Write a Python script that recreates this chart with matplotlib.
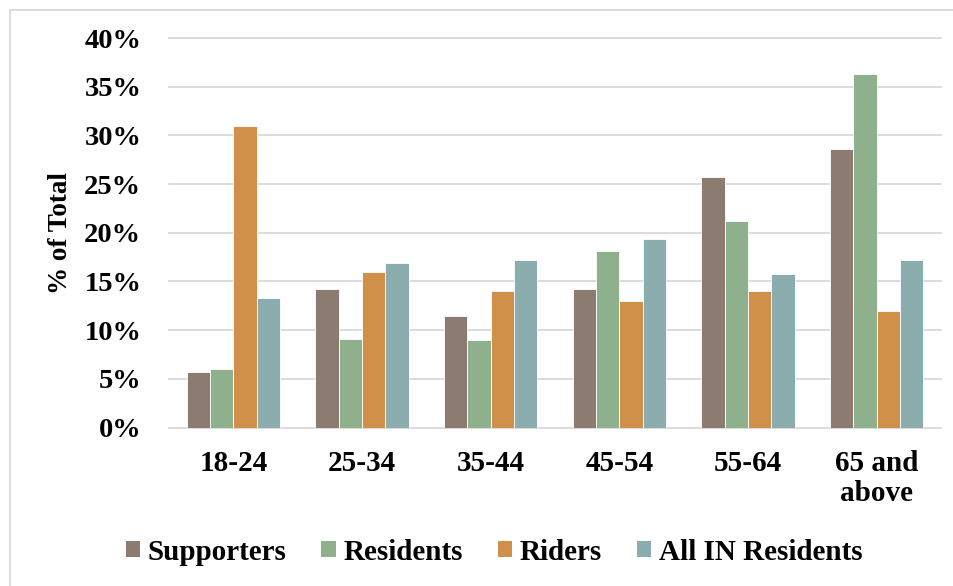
import numpy as np
import matplotlib
matplotlib.use("Agg")
import matplotlib.pyplot as plt
from matplotlib.patches import Patch
from matplotlib.lines import Line2D
from matplotlib.ticker import PercentFormatter

# Age groups and share of each population (%)
age_groups = ["18-24", "25-34", "35-44", "45-54", "55-64", "65 and\nabove"]
supporters = [5.7, 14.2, 11.4, 14.2, 25.7, 28.6]
residents = [6.0, 9.1, 9.0, 18.1, 21.2, 36.3]
riders = [31.0, 16.0, 14.0, 13.0, 14.0, 12.0]
all_in_residents = [13.3, 16.9, 17.2, 19.4, 15.8, 17.2]
series_names = ["Supporters", "Residents", "Riders", "All IN Residents"]
y_ticks = [0, 5, 10, 15, 20, 25, 30, 35, 40]

colors = ["#8C7B70", "#8FB08C", "#D1904A", "#8CADAE"]
grid_color = "#D9D9D9"

plt.rcParams["font.family"] = ["Liberation Serif", "DejaVu Serif"]
plt.rcParams["font.weight"] = "bold"

fig = plt.figure(figsize=(9.54, 5.86), dpi=100)
ax = fig.add_axes([169 / 954, 158.5 / 586, 772 / 954, 389.5 / 586])

x = np.arange(len(age_groups))
bar_w = 0.181
all_series = [supporters, residents, riders, all_in_residents]
for i, (vals, col, name) in enumerate(zip(all_series, colors, series_names)):
    ax.bar(x + (i - 1.5) * bar_w, vals, width=bar_w, color=col,
           edgecolor="white", linewidth=0.6, label=name, zorder=3)

ax.set_xlim(-0.5, len(age_groups) - 0.5)
ax.set_ylim(0, 40)
ax.set_yticks(y_ticks)
ax.yaxis.set_major_formatter(PercentFormatter(decimals=0))
ax.grid(axis="y", color=grid_color, linewidth=1.3, zorder=0)
for gl in ax.get_ygridlines():
    gl.set_clip_on(False)
ax.set_axisbelow(True)
for s in ax.spines.values():
    s.set_visible(False)

ax.set_xticks(x)
ax.set_xticklabels(age_groups, fontsize=21, fontweight="bold", linespacing=1.15)
ax.tick_params(axis="x", length=0, pad=16)
ax.tick_params(axis="y", length=0, pad=20, labelsize=20.5)
for lbl in ax.get_yticklabels():
    lbl.set_fontweight("bold")

ax.set_ylabel("% of Total", fontsize=19.5, fontweight="bold", labelpad=8)

handles = [Patch(facecolor=c, edgecolor="none") for c in colors]
fig.legend(handles, series_names, loc="center", bbox_to_anchor=(494 / 954, 1 - 552 / 586),
           ncol=4, frameon=False, handlelength=0.5, handleheight=0.5,
           handletextpad=0.25, columnspacing=1.2, prop={"weight": "bold", "size": 21})

# light frame edges along the left and top of the chart
fx0, fy_top = 10.5 / 954, 1 - 9.5 / 586
fig.add_artist(Line2D([fx0, fx0], [0, fy_top], transform=fig.transFigure,
                      color=grid_color, linewidth=1.3))
fig.add_artist(Line2D([fx0, 1], [fy_top, fy_top], transform=fig.transFigure,
                      color=grid_color, linewidth=1.3))

fig.savefig("out.png", dpi=100)
